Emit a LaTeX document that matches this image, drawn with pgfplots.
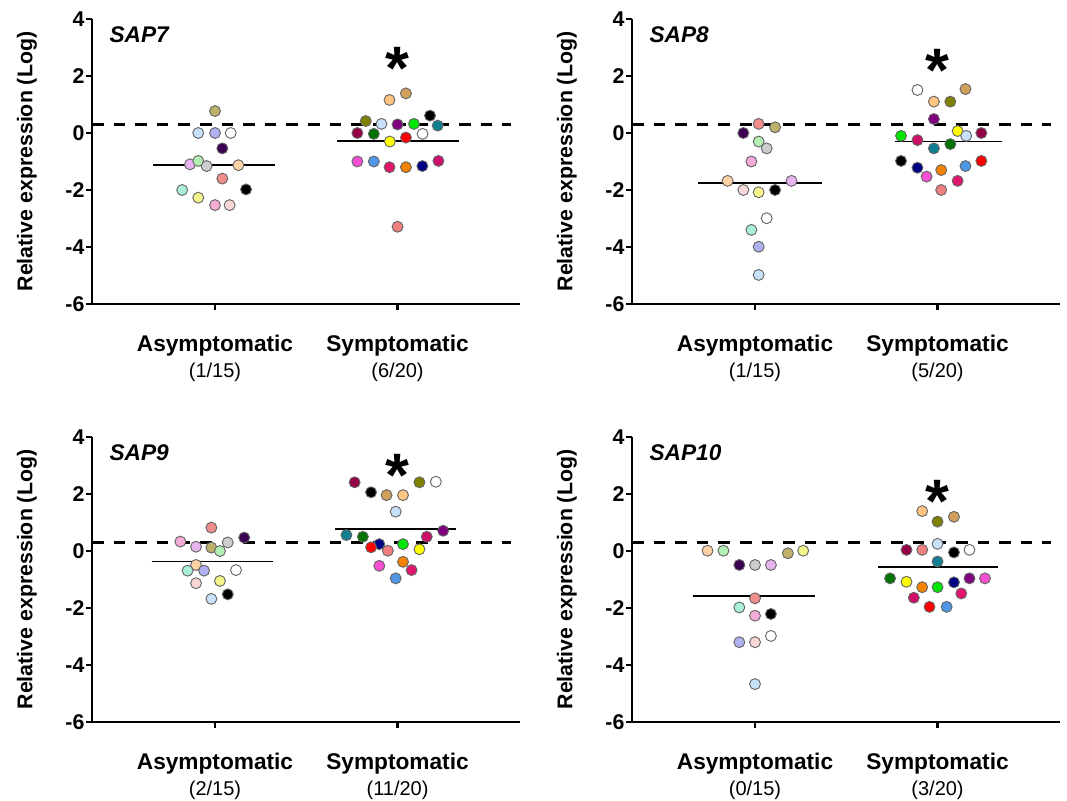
\documentclass[border=0pt]{standalone}
\usepackage{pgfplots}
\pgfplotsset{compat=1.18}
\usepackage{pgfplotstable}
\usepackage{fontspec}
\setmainfont{Liberation Sans}

\definecolor{ckh}{RGB}{190,176,106}
\definecolor{clb}{RGB}{200,225,250}
\definecolor{cpw}{RGB}{176,176,240}
\definecolor{cwh}{RGB}{255,255,255}
\definecolor{cdp}{RGB}{60,0,80}
\definecolor{clv}{RGB}{232,180,240}
\definecolor{clg}{RGB}{180,240,180}
\definecolor{cgy}{RGB}{205,205,205}
\definecolor{cpc}{RGB}{255,210,165}
\definecolor{csa}{RGB}{240,140,140}
\definecolor{cmi}{RGB}{170,240,215}
\definecolor{cbk}{RGB}{0,0,0}
\definecolor{cly}{RGB}{245,245,140}
\definecolor{cpk}{RGB}{245,170,215}
\definecolor{clpk}{RGB}{250,215,215}
\definecolor{ctn}{RGB}{210,160,90}
\definecolor{cpc2}{RGB}{255,195,130}
\definecolor{col}{RGB}{128,128,0}
\definecolor{cpu}{RGB}{128,0,128}
\definecolor{cgr}{RGB}{0,230,0}
\definecolor{cte}{RGB}{16,128,144}
\definecolor{cma}{RGB}{150,0,70}
\definecolor{cdg}{RGB}{0,115,0}
\definecolor{crd}{RGB}{255,0,0}
\definecolor{cye}{RGB}{255,255,0}
\definecolor{cmp}{RGB}{245,80,210}
\definecolor{ccf}{RGB}{80,150,230}
\definecolor{cdk}{RGB}{225,20,110}
\definecolor{cor}{RGB}{245,130,0}
\definecolor{cnv}{RGB}{0,0,130}
\definecolor{ccr}{RGB}{205,15,105}
\definecolor{csb}{RGB}{240,128,128}

\tikzset{dotc/.style={draw=black!60, fill=#1, line width=0.7pt}}

\pgfplotstableread{
x y c
1.00 0.77 kh
0.908 0.00 lb
1.00 0.00 pw
1.086 0.00 wh
1.04 -0.54 dp
0.863 -1.10 lv
0.908 -0.98 lg
0.954 -1.16 gy
1.128 -1.13 pc
1.04 -1.60 sa
0.82 -2.00 mi
1.17 -1.98 bk
0.908 -2.27 ly
1.00 -2.53 pk
1.08 -2.53 lpk
2.046 1.39 tn
1.956 1.16 pcb
2.178 0.61 bk
1.826 0.42 ol
1.912 0.32 lb
2.00 0.30 pu
2.09 0.32 gr
2.22 0.26 te
1.78 0.00 ma
1.87 -0.03 dg
2.137 -0.03 wh
2.046 -0.16 rd
1.958 -0.30 ye
1.78 -1.00 mp
1.87 -1.00 cf
1.956 -1.20 dk
2.046 -1.20 or
2.136 -1.16 nv
2.224 -0.98 cr
2.00 -3.29 sb
}\sapA

\pgfplotstableread{
x y c
1.02 0.32 sa
1.11 0.20 kh
0.936 0.00 dp
1.02 -0.30 lg
1.064 -0.54 gy
0.98 -1.00 pk
0.85 -1.68 pc
1.20 -1.68 lv
0.936 -2.00 lpk
1.02 -2.08 ly
1.11 -2.00 bk
1.064 -2.99 wh
0.98 -3.40 mi
1.02 -3.99 pw
1.02 -4.98 lb
1.89 1.51 wh
2.153 1.54 tn
1.98 1.10 pcb
2.07 1.10 ol
1.98 0.49 pu
1.80 -0.10 gr
2.11 0.07 ye
2.157 -0.10 lb
2.24 0.00 ma
1.89 -0.25 cr
2.07 -0.39 dg
1.98 -0.54 te
1.80 -0.98 bk
1.89 -1.22 nv
1.94 -1.53 mp
2.02 -1.30 or
2.153 -1.16 cf
2.24 -0.98 rd
2.11 -1.68 dk
2.02 -2.00 sb
}\sapB

\pgfplotstableread{
x y c
0.98 0.82 sa
0.81 0.33 pk
1.16 0.47 dp
1.07 0.30 gy
0.896 0.15 lv
0.98 0.12 kh
1.027 0.00 lg
0.896 -0.49 pc
0.85 -0.69 mi
0.94 -0.69 pw
1.115 -0.67 wh
0.896 -1.13 lpk
1.027 -1.05 ly
1.07 -1.52 bk
0.98 -1.68 lb
1.765 2.41 ma
2.12 2.41 ol
2.21 2.43 wh
1.855 2.06 bk
1.94 1.96 tn
2.03 1.96 pcb
1.99 1.38 lb
2.25 0.71 pu
1.72 0.56 te
1.81 0.50 dg
2.16 0.50 cr
1.90 0.24 nv
2.03 0.24 gr
1.855 0.13 rd
1.947 0.01 sb
2.12 0.06 ye
1.90 -0.52 mp
2.03 -0.38 or
2.077 -0.67 dk
1.99 -0.96 cf
}\sapC

\pgfplotstableread{
x y c
0.74 0.01 pc
0.827 0.01 lg
1.18 -0.08 kh
1.264 0.01 ly
0.914 -0.49 dp
1.00 -0.49 gy
1.087 -0.49 lv
1.00 -1.66 sa
0.914 -1.98 mi
1.00 -2.27 pk
1.087 -2.21 bk
1.087 -2.98 wh
0.914 -3.20 pw
1.00 -3.20 lpk
1.00 -4.67 lb
1.916 1.40 pcb
2.09 1.20 tn
2.00 1.03 ol
2.00 0.25 lb
1.83 0.04 ma
1.916 0.04 sb
2.09 -0.05 bk
2.175 0.04 wh
2.00 -0.37 te
1.74 -0.96 dg
1.83 -1.08 ye
1.916 -1.27 or
2.00 -1.27 gr
2.09 -1.10 nv
2.175 -0.96 pu
2.26 -0.96 mp
1.87 -1.64 cr
2.13 -1.49 dk
1.956 -1.96 rd
2.05 -1.96 cf
}\sapD

\pgfplotsset{
  sapaxis/.style={
    scale only axis, width=321pt, height=213.75pt,
    xmin=0.326, xmax=2.671, ymin=-6, ymax=4,
    ytick={-6,-4,...,4}, xtick={1,2},
    axis lines*=left,
    axis line style={line width=1.6pt},
    tick align=outside, major tick length=4.5pt,
    tick style={line width=1.6pt, black},
    /pgf/number format/assume math mode=true,
    yticklabel style={font=\bfseries\fontsize{16}{16}\selectfont, inner sep=1pt},
    xticklabel style={align=center, font=\fontsize{17}{19.5}\selectfont, yshift=-15pt},
    ylabel={Relative expression (Log)},
    every axis y label/.style={at={(axis description cs:-0.152,0.5)}, rotate=90, anchor=center, font=\bfseries\fontsize{16}{16}\selectfont},
    clip=false,
  },
  dots/.style={scatter, only marks, mark=*, mark size=4.1pt, scatter src=explicit symbolic,
    scatter/classes={
      kh={dotc=ckh}, lb={dotc=clb}, pw={dotc=cpw}, wh={dotc=cwh}, dp={dotc=cdp},
      lv={dotc=clv}, lg={dotc=clg}, gy={dotc=cgy}, pc={dotc=cpc}, sa={dotc=csa},
      mi={dotc=cmi}, bk={dotc=cbk}, ly={dotc=cly}, pk={dotc=cpk}, lpk={dotc=clpk},
      tn={dotc=ctn}, pcb={dotc=cpc2}, ol={dotc=col}, pu={dotc=cpu}, gr={dotc=cgr},
      te={dotc=cte}, ma={dotc=cma}, dg={dotc=cdg}, rd={dotc=crd}, ye={dotc=cye},
      mp={dotc=cmp}, cf={dotc=ccf}, dk={dotc=cdk}, or={dotc=cor}, nv={dotc=cnv},
      cr={dotc=ccr}, sb={dotc=csb}}},
  thr/.style={black, line width=2.8pt, dash pattern=on 8.7pt off 7.5pt},
  mean/.style={black, line width=1.4pt},
}
\newcommand{\gene}[1]{\node[anchor=west, font=\bfseries\itshape\fontsize{17}{17}\selectfont] at (rel axis cs:0.030,0.944) {#1};}
\newcommand{\sigstar}[1]{\node[font=\bfseries\fontsize{46}{46}\selectfont, yshift=-10pt] at (axis cs:2,#1) {*};}

\begin{document}
\begin{tikzpicture}
\useasboundingbox (0,0) rectangle (800.25pt,600pt);

\begin{axis}[sapaxis, at={(69pt,372pt)}, anchor=south west,
  xticklabels={{\textbf{Asymptomatic}\\{\fontsize{15}{19.5}\selectfont (1/15)}}, {\textbf{Symptomatic}\\{\fontsize{15}{19.5}\selectfont (6/20)}}}]
\addplot[thr] coordinates {(0.326,0.3) (2.62,0.3)};
\addplot[mean] coordinates {(0.66,-1.12) (1.33,-1.12)};
\addplot[mean] coordinates {(1.67,-0.28) (2.335,-0.28)};
\addplot[dots] table[x=x,y=y,meta=c] {\sapA};
\gene{SAP7}
\sigstar{2.74}
\end{axis}

\begin{axis}[sapaxis, at={(474pt,372pt)}, anchor=south west,
  xticklabels={{\textbf{Asymptomatic}\\{\fontsize{15}{19.5}\selectfont (1/15)}}, {\textbf{Symptomatic}\\{\fontsize{15}{19.5}\selectfont (5/20)}}}]
\addplot[thr] coordinates {(0.326,0.3) (2.62,0.3)};
\addplot[mean] coordinates {(0.69,-1.75) (1.366,-1.75)};
\addplot[mean] coordinates {(1.765,-0.30) (2.355,-0.30)};
\addplot[dots] table[x=x,y=y,meta=c] {\sapB};
\gene{SAP8}
\sigstar{2.67}
\end{axis}

\begin{axis}[sapaxis, at={(69pt,58.5pt)}, anchor=south west,
  xticklabels={{\textbf{Asymptomatic}\\{\fontsize{15}{19.5}\selectfont (2/15)}}, {\textbf{Symptomatic}\\{\fontsize{15}{19.5}\selectfont (11/20)}}}]
\addplot[thr] coordinates {(0.326,0.3) (2.62,0.3)};
\addplot[mean] coordinates {(0.652,-0.37) (1.32,-0.37)};
\addplot[mean] coordinates {(1.66,0.76) (2.32,0.76)};
\addplot[dots] table[x=x,y=y,meta=c] {\sapC};
\gene{SAP9}
\sigstar{3.12}
\end{axis}

\begin{axis}[sapaxis, at={(474pt,58.5pt)}, anchor=south west,
  xticklabels={{\textbf{Asymptomatic}\\{\fontsize{15}{19.5}\selectfont (0/15)}}, {\textbf{Symptomatic}\\{\fontsize{15}{19.5}\selectfont (3/20)}}}]
\addplot[thr] coordinates {(0.326,0.3) (2.62,0.3)};
\addplot[mean] coordinates {(0.66,-1.58) (1.33,-1.58)};
\addplot[mean] coordinates {(1.674,-0.57) (2.33,-0.57)};
\addplot[dots] table[x=x,y=y,meta=c] {\sapD};
\gene{SAP10}
\sigstar{2.21}
\end{axis}
\end{tikzpicture}
\end{document}
